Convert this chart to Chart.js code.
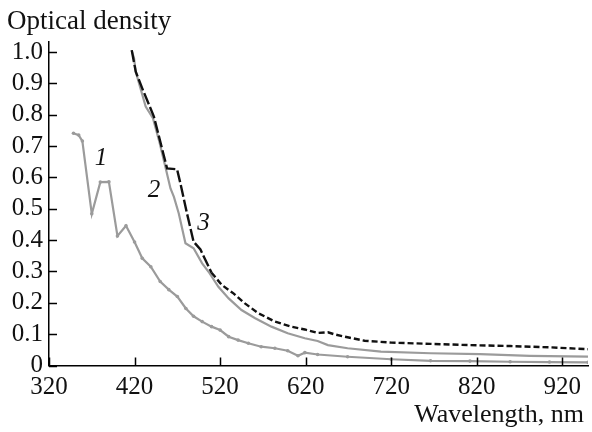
<!DOCTYPE html>
<html>
<head>
<meta charset="utf-8">
<script src="https://cdn.jsdelivr.net/npm/chart.js@4.4.1/dist/chart.umd.min.js"></script>
<style>
    html, body { margin: 0; padding: 0; background: #fff; }
    #wrap { width: 592px; height: 432px; }
</style>
</head>
<body>
<div id="wrap"><canvas id="spectraChart"></canvas></div>
<script>
// Absorption spectra, wavelength (nm) vs optical density
const wl1 = [348.6, 354.7, 359, 370, 380, 390, 400, 410, 420, 429, 439, 450, 460, 470, 480, 489, 499, 510, 520, 530, 541, 553, 568, 584, 599, 611, 619, 634, 669, 720, 766, 812, 859, 905, 950];
const od1 = [0.741, 0.735, 0.716, 0.484, 0.585, 0.586, 0.413, 0.446, 0.394, 0.342, 0.315, 0.268, 0.242, 0.220, 0.182, 0.157, 0.140, 0.124, 0.113, 0.092, 0.081, 0.071, 0.060, 0.055, 0.047, 0.031, 0.041, 0.035, 0.028, 0.020, 0.015, 0.014, 0.012, 0.011, 0.010];

const wl2 = [416.7, 419.4, 421.4, 433, 441.5, 448.5, 456, 462, 466, 471.7, 479.5, 489, 499, 506.5, 518, 530, 545, 561, 580, 599, 619, 634, 646, 669, 708, 766, 824, 882, 950];
const od2 = [1.004, 0.980, 0.937, 0.826, 0.789, 0.719, 0.634, 0.565, 0.538, 0.485, 0.390, 0.374, 0.326, 0.299, 0.251, 0.214, 0.177, 0.151, 0.124, 0.103, 0.087, 0.078, 0.065, 0.055, 0.044, 0.039, 0.036, 0.031, 0.028];

const wl3 = [416.7, 421.4, 429, 442.6, 458, 469.7, 473.6, 481.3, 489, 497, 510, 522, 535.6, 549, 564.6, 584, 603, 619, 634, 646, 654, 669, 689, 720, 766, 812, 859, 905, 950];
const od3 = [1.006, 0.937, 0.884, 0.794, 0.629, 0.626, 0.581, 0.485, 0.395, 0.370, 0.296, 0.257, 0.230, 0.198, 0.167, 0.140, 0.124, 0.115, 0.104, 0.106, 0.099, 0.090, 0.079, 0.073, 0.069, 0.065, 0.062, 0.058, 0.052];

const xTicks = [320, 420, 520, 620, 720, 820, 920];
const yTicks = [0, 0.1, 0.2, 0.3, 0.4, 0.5, 0.6, 0.7, 0.8, 0.9, 1.0];

// curve number, wavelength, optical density where the number sits
const curveLabels = [["1", 380.7, 0.661], ["2", 442.6, 0.560], ["3", 500.7, 0.454]];

const SERIF = "'Liberation Serif', 'Times New Roman', serif";
const GRAY = "#9b9b9b";

function toPoints(xs, ys) {
    return xs.map((x, i) => ({ x: x, y: ys[i] }));
}

// tick marks pointing into the plot, plus the axis captions and curve numbers
const decorations = {
    id: "decorations",
    afterDraw(chart) {
        const { ctx, scales: { x, y } } = chart;
        ctx.save();
        ctx.strokeStyle = "#000";
        ctx.lineWidth = 1.5;
        ctx.beginPath();
        x.ticks.forEach(t => {
            const px = Math.round(x.getPixelForValue(t.value)) + 0.5;
            ctx.moveTo(px, y.bottom);
            ctx.lineTo(px, y.bottom - 8);
        });
        y.ticks.forEach(t => {
            const py = Math.round(y.getPixelForValue(t.value)) + 0.5;
            ctx.moveTo(x.left, py);
            ctx.lineTo(x.left + 8, py);
        });
        ctx.stroke();

        ctx.fillStyle = "#111";
        ctx.textBaseline = "alphabetic";
        ctx.font = "27px " + SERIF;
        ctx.textAlign = "left";
        ctx.fillText("Optical density", 7, 29);
        ctx.font = "26px " + SERIF;
        ctx.textAlign = "right";
        ctx.fillText("Wavelength, nm", 584, 422);

        ctx.font = "italic 25px " + SERIF;
        ctx.textAlign = "center";
        ctx.textBaseline = "middle";
        curveLabels.forEach(([txt, wl, od]) => {
            ctx.fillText(txt, x.getPixelForValue(wl), y.getPixelForValue(od));
        });
        ctx.restore();
    }
};

new Chart(document.getElementById("spectraChart"), {
    type: "line",
    data: {
        datasets: [
            {
                label: "1",
                data: toPoints(wl1, od1),
                borderColor: GRAY,
                backgroundColor: GRAY,
                borderWidth: 2.2,
                pointRadius: 1.8,
                pointBorderWidth: 0,
                pointBackgroundColor: GRAY,
                tension: 0,
                order: 2
            },
            {
                label: "2",
                data: toPoints(wl2, od2),
                borderColor: GRAY,
                borderWidth: 2.2,
                pointRadius: 0,
                tension: 0,
                order: 1
            },
            {
                label: "3",
                data: toPoints(wl3, od3),
                borderColor: "#111",
                borderWidth: 2.4,
                pointRadius: 0,
                tension: 0,
                borderDash: [6, 3],
                segment: {
                    borderDash: c => c.p0.parsed.x < 500 ? [12, 3] : [6, 3]
                },
                order: 0
            }
        ]
    },
    options: {
        responsive: true,
        maintainAspectRatio: false,
        animation: false,
        devicePixelRatio: 1,
        layout: { padding: { top: 42, left: 0, right: 0, bottom: 0 } },
        plugins: {
            legend: { display: false },
            tooltip: { enabled: false }
        },
        scales: {
            x: {
                type: "linear",
                min: 320,
                max: 950,
                afterBuildTicks: s => { s.ticks = xTicks.map(v => ({ value: v })); },
                afterFit: s => { s.height = 66.5; },
                ticks: {
                    color: "#111",
                    font: { family: SERIF, size: 25 },
                    padding: 7,
                    maxRotation: 0,
                    autoSkip: false
                },
                grid: { display: true, drawOnChartArea: false, drawTicks: false },
                border: { display: true, color: "#000", width: 1.5 }
            },
            y: {
                min: 0,
                max: 1.032,
                afterBuildTicks: s => { s.ticks = yTicks.map(v => ({ value: v })); },
                afterFit: s => { s.width = 49; },
                ticks: {
                    color: "#111",
                    font: { family: SERIF, size: 25 },
                    padding: 6,
                    autoSkip: false,
                    callback: v => v === 0 ? "0" : v.toFixed(1)
                },
                grid: { display: true, drawOnChartArea: false, drawTicks: false },
                border: { display: true, color: "#000", width: 1.5 }
            }
        }
    },
    plugins: [decorations]
});
</script>
</body>
</html>
